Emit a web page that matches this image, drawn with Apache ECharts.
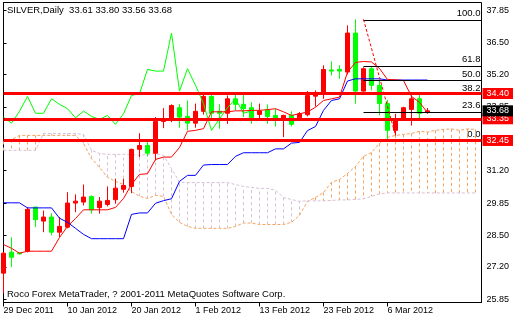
<!DOCTYPE html>
<html><head><meta charset="utf-8">
<script src="https://cdn.jsdelivr.net/npm/echarts@6/dist/echarts.min.js"></script>
<style>html,body{margin:0;padding:0;background:#fff}#c{width:520px;height:320px}</style>
</head><body><div id="c"></div>
<script>
// ---- data ----
const dateLabels = ['29 Dec 2011','10 Jan 2012','20 Jan 2012','1 Feb 2012','13 Feb 2012','23 Feb 2012','6 Mar 2012'];
const dateLabelBars = [0,8,16,24,32,40,48];
const priceTicks = [25.85,27.20,28.50,29.85,31.20,32.50,33.85,35.20,36.50,37.85];

const opens  = [26.94,27.81,27.78,27.85,29.68,29.10,29.27,28.64,28.85,29.85,29.89,30.12,29.66,29.79,29.99,30.42,30.54,32.08,32.24,31.92,33.24,33.28,33.81,33.45,33.17,33.66,34.28,33.66,33.58,34.18,33.95,33.81,33.53,33.72,33.49,33.32,33.49,33.39,33.52,34.29,34.42,35.38,35.40,35.29,36.91,34.50,35.43,34.74,33.98,32.87,33.35,33.74,34.18,33.61];
const closes = [27.77,27.60,27.74,29.59,29.16,29.27,28.64,28.88,29.85,29.93,30.10,29.57,29.93,29.96,30.47,30.58,32.08,32.24,31.92,33.24,33.32,33.90,33.42,33.17,33.66,34.28,33.58,33.58,34.18,33.95,33.77,33.39,33.67,33.45,33.32,33.49,33.12,33.56,34.32,34.39,35.40,35.33,35.33,36.91,34.50,35.43,34.74,33.98,32.87,33.35,33.81,34.18,33.58,33.68];
const lows   = [26.10,27.19,27.72,27.80,28.85,28.64,28.51,28.44,28.80,29.47,29.75,29.41,29.41,29.71,29.82,30.28,30.26,31.76,31.79,31.62,32.96,33.21,32.98,32.87,32.98,33.52,33.28,32.94,33.14,33.70,33.42,33.14,33.28,33.14,33.03,32.59,33.03,33.35,33.45,33.86,34.18,35.15,35.01,35.19,33.98,34.48,34.53,33.49,32.45,32.66,33.33,33.07,33.31,33.56];
const highs  = [27.82,28.43,27.80,29.68,29.70,29.54,29.43,29.27,30.30,30.21,30.62,30.17,30.10,30.54,30.86,30.86,32.11,32.75,32.45,33.42,33.79,33.95,33.96,34.11,33.98,34.46,34.46,33.96,34.32,34.46,34.42,34.04,33.98,33.95,33.77,33.52,33.66,33.63,34.50,34.53,35.57,35.73,35.57,37.23,37.48,35.49,35.49,34.94,34.14,33.56,33.85,34.32,34.36,33.80];

const tenkan = [28.13,27.97,27.77,27.85,27.85,27.85,27.85,28.42,28.88,29.21,29.57,29.57,29.57,29.57,29.67,30.04,30.62,31.04,31.07,31.66,31.76,31.76,32.16,32.83,32.87,32.94,33.64,33.64,33.64,33.68,33.68,33.70,33.70,33.73,33.77,33.64,33.49,33.56,33.63,33.83,34.11,34.18,34.25,35.29,35.69,35.73,35.71,35.44,34.98,34.97,34.94,34.28,34.03,33.61];
const kijun  = [29.86,29.86,29.86,29.65,29.65,29.65,29.65,29.22,29.05,28.80,28.55,28.37,28.37,28.37,28.37,28.37,29.38,29.44,29.44,29.84,29.95,30.03,30.75,31.00,31.00,31.43,31.45,31.45,31.45,31.79,31.94,31.94,31.94,31.94,32.10,32.10,32.34,32.37,32.86,33.03,33.70,34.11,34.18,34.92,35.01,35.01,35.01,35.01,34.96,34.96,34.96,34.96,34.96,34.96];
const chikou = [33.42,33.17,33.66,34.28,33.58,33.58,34.18,33.95,33.77,33.39,33.67,33.45,33.32,33.49,33.12,33.56,34.32,34.39,35.40,35.33,35.33,36.91,34.50,35.43,34.74,33.98,32.87,33.35,33.81,34.18,33.58,33.68];
const spanA  = [32.41,32.49,32.66,32.66,32.66,32.66,32.66,32.66,32.66,32.66,32.33,31.70,31.33,30.92,30.75,30.62,30.33,30.13,30.04,30.17,30.13,29.38,29.05,28.88,28.80,28.80,28.80,28.80,28.80,28.88,29.02,29.02,28.96,28.96,28.96,28.96,29.05,29.34,29.92,30.08,30.29,30.71,30.83,31.08,31.37,31.79,31.95,32.33,32.58,32.66,32.70,32.74,32.83,32.80,32.87,32.91,32.93,32.87,32.93,32.91];
const spanB  = [32.04,32.04,32.04,32.04,32.04,32.74,32.74,32.74,32.74,32.74,32.70,32.04,31.91,31.87,31.87,31.87,31.87,31.83,31.87,31.90,31.83,31.29,30.71,30.70,30.70,30.70,30.70,30.70,30.70,30.62,30.54,30.50,30.46,30.46,30.38,30.08,30.00,29.92,29.94,29.94,29.94,29.96,29.98,29.98,30.00,30.03,30.13,30.23,30.27,30.27,30.27,30.27,30.27,30.27,30.27,30.27,30.27,30.27,30.27,30.27];

const levelLines = [34.40, 33.35, 32.45];
const lastBid = 33.68;
const fibLevels = [37.46, 35.55, 34.96, 34.37, 33.64, 32.46];
const fibNames  = ['100.0','61.8','50.0','38.2','23.6','0.0'];
const fibStartBar = 45;
const trendBars = [45, 49];
const trendPrices = [37.48, 32.66];

const titleText  = 'SILVER,Daily  33.61 33.80 33.56 33.68';
const footerText = 'Roco Forex MetaTrader, ? 2001-2011 MetaQuotes Software Corp.';

// ---- chart ----
const FONT = '"Liberation Sans", Arial, sans-serif';
const X_MAX = 59.75;
const pairs = arr => arr.map((v, i) => [i, v]);

const chart = echarts.init(document.getElementById('c'), null, {renderer: 'canvas'});
chart.setOption({
  animation: false,
  backgroundColor: '#fff',
  grid: {left: 3.5, right: 38.5, top: 2.5, bottom: 17.5, show: true, borderColor: '#000', borderWidth: 1, backgroundColor: 'transparent'},
  xAxis: {
    type: 'value', min: 0, max: X_MAX,
    axisLine: {show: true, lineStyle: {color: '#000', width: 1}},
    axisTick: {show: true, customValues: dateLabelBars, length: 4, lineStyle: {color: '#000'}},
    axisLabel: {customValues: dateLabelBars, formatter: v => dateLabels[dateLabelBars.indexOf(v)] || '',
      align: 'left', margin: 4, fontSize: 9, fontFamily: FONT, color: '#000'},
    splitLine: {show: false}
  },
  yAxis: {
    type: 'value', position: 'right', min: 25.72, max: 38.18,
    axisLine: {show: true, lineStyle: {color: '#000', width: 1}},
    axisTick: {show: true, customValues: priceTicks, length: 3, lineStyle: {color: '#000'}},
    axisLabel: {customValues: priceTicks, formatter: v => v.toFixed(2), margin: 5, fontSize: 9, fontFamily: FONT, color: '#000'},
    splitLine: {show: false}
  },
  graphic: [
    {type: 'text', left: 7, top: 5, z: 20, style: {text: titleText, font: '9.5px ' + FONT, fill: '#000'}},
    {type: 'text', left: 7, top: 289, z: 20, style: {text: footerText, font: '9.5px ' + FONT, fill: '#000'}}
  ],
  series: [
    { // kumo hatch
      type: 'custom', silent: true, z: 1, clip: true,
      data: spanA.map((a, i) => [i, a, spanB[i]]),
      encode: {x: 0, y: [1, 2]},
      renderItem: (params, api) => {
        const i = api.value(0), a = api.value(1), b = api.value(2);
        const p1 = api.coord([i, a]), p2 = api.coord([i, b]);
        return {type: 'line', shape: {x1: p1[0], y1: p1[1], x2: p2[0], y2: p2[1]},
          style: {stroke: a >= b ? '#F4A460' : '#D8BFD8', lineWidth: 1, lineDash: [3, 3]}};
      }
    },
    {type: 'line', name: 'SpanA', data: pairs(spanA), symbol: 'none', z: 2, silent: true,
      lineStyle: {color: '#F4A460', width: 1, type: [3, 2]}},
    {type: 'line', name: 'SpanB', data: pairs(spanB), symbol: 'none', z: 2, silent: true,
      lineStyle: {color: '#D8BFD8', width: 1, type: [3, 2]}},
    {type: 'candlestick', name: 'SILVER', z: 3,
      data: opens.map((o, i) => [i, o, closes[i], lows[i], highs[i]]),
      encode: {x: 0, y: [1, 2, 3, 4]}, barWidth: 5,
      itemStyle: {color: '#ff0000', color0: '#00ff00', borderColor: '#ff0000', borderColor0: '#00ff00', borderWidth: 1}},
    {type: 'line', name: 'Chikou', data: pairs(chikou), symbol: 'none', z: 4, silent: true,
      lineStyle: {color: '#00ff00', width: 1}},
    {type: 'line', name: 'Kijun', data: pairs(kijun), symbol: 'none', z: 4, silent: true,
      lineStyle: {color: '#0000ff', width: 1}},
    {type: 'line', name: 'Tenkan', data: pairs(tenkan), symbol: 'none', z: 4, silent: true,
      lineStyle: {color: '#ff0000', width: 1}},
    {type: 'line', name: 'Trend', data: trendBars.map((b, k) => [b, trendPrices[k]]), symbol: 'none', z: 5, silent: true,
      lineStyle: {color: '#ff0000', width: 1, type: [3, 2]}},
    {type: 'line', name: 'Fibo', data: [], z: 6, silent: true,
      markLine: {silent: true, symbol: 'none', animation: false,
        lineStyle: {color: '#000', width: 1, type: 'solid'},
        label: {show: true, position: 'insideEndTop', distance: 1, color: '#000', fontSize: 9.5, fontFamily: FONT,
          formatter: p => fibNames[p.dataIndex]},
        data: fibLevels.map(v => [{coord: [fibStartBar, v]}, {coord: [X_MAX, v]}])}},
    {type: 'line', name: 'Levels', data: [], z: 7, silent: true,
      markLine: {silent: true, symbol: 'none', animation: false,
        lineStyle: {color: '#ff0000', width: 3, type: 'solid'},
        label: {show: true, position: 'end', distance: 1, formatter: p => p.value.toFixed(2),
          backgroundColor: '#ff0000', color: '#fff', padding: [1, 4, 0, 4], lineHeight: 10, fontSize: 9, fontFamily: FONT},
        data: levelLines.map(v => ({yAxis: v})).concat([{yAxis: lastBid, lineStyle: {color: 'rgba(0,0,0,0)', width: 1},
          label: {backgroundColor: '#000'}}])}}
  ]
});
</script></body></html>
